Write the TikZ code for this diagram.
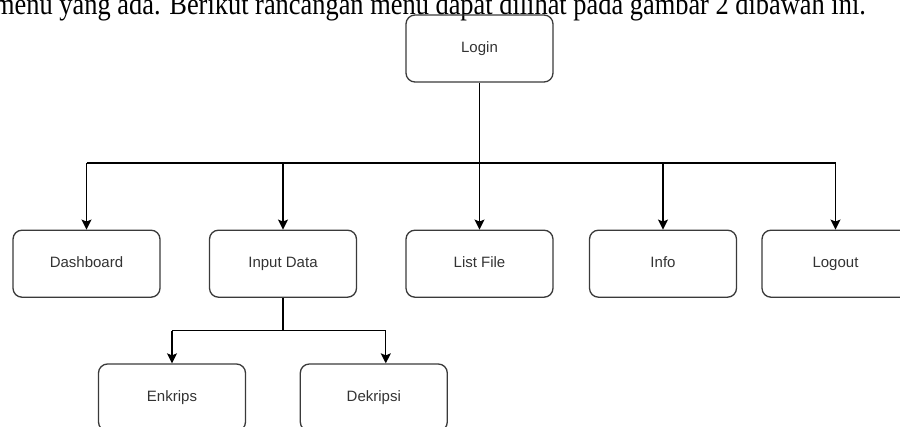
\documentclass[tikz,border=0pt]{standalone}
\usepackage{fontspec}
\setmainfont{Liberation Serif}
\setsansfont{Liberation Sans}
\usetikzlibrary{arrows.meta}
\definecolor{boxline}{HTML}{3A3A3A}
\definecolor{boxtext}{HTML}{333333}

\begin{document}
\begin{tikzpicture}[x=1pt,y=-1pt,
    menu/.style={draw=boxline,line width=1.3pt,rounded corners=9pt,
      minimum width=147pt,minimum height=67pt,inner sep=0pt,
      text height=11pt,text depth=3pt,
      text=boxtext,font=\sffamily\fontsize{15}{17}\selectfont},
    wire/.style={line width=1.3pt},
    arr/.style={wire,-{Stealth[length=10pt,width=10pt,inset=2pt]}}]
\useasboundingbox (0,0) rectangle (900,426);
\clip (0,0) rectangle (900,426);

% sentence of the page above the chart
\node[anchor=base west,inner sep=0pt,yscale=1.15,
      font=\fontsize{26.4}{30}\selectfont]
    (caption) at (-6,14.5) {menu yang ada. Berikut rancangan menu dapat dilihat pada gambar 2 dibawah ini.};

\node[menu] (login) at (479.5,48.5) {Login};

\node[menu] (dash)   at (86.5,263.7) {Dashboard};
\node[menu] (input)  at (283,263.7)  {Input Data};
\node[menu] (list)   at (479.5,263.7) {List File};
\node[menu] (info)   at (663,263.7)  {Info};
\node[menu] (logout) at (835.5,263.7) {Logout};

\node[menu] (enk) at (172,397.5)   {Enkrips};
\node[menu] (dek) at (373.8,397.5) {Dekripsi};

% main bus under the login box
\coordinate (bus) at (479.5,163);
\draw[wire] (login.south) -- (bus);
\draw[wire] (dash.north |- bus) -- (logout.north |- bus);
\foreach \n in {dash,input,list,info,logout}
    \draw[arr] (\n.north |- bus) -- (\n.north);

% sub menu of input data
\coordinate (sub) at (283,330.7);
\coordinate (dektop) at ([xshift=12pt]dek.north);
\draw[wire] (input.south) -- (sub);
\draw[wire] (enk.north |- sub) -- (dektop |- sub);
\draw[arr] (enk.north |- sub) -- (enk.north);
\draw[arr] (dektop |- sub) -- (dektop);

\end{tikzpicture}
\end{document}
